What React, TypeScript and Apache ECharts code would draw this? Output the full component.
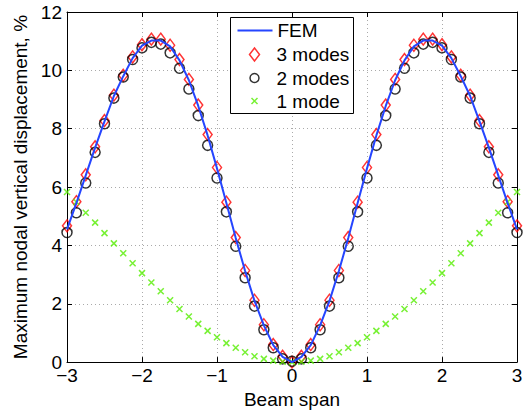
import React, { useEffect, useRef } from "react";
import * as echarts from "echarts";

const spans = [
  -3, -2.875, -2.75, -2.625, -2.5, -2.375, -2.25, -2.125, -2, -1.875, -1.75, -1.625, -1.5,
  -1.375, -1.25, -1.125, -1, -0.875, -0.75, -0.625, -0.5, -0.375, -0.25, -0.125, 0,
  0.125, 0.25, 0.375, 0.5, 0.625, 0.75, 0.875, 1, 1.125, 1.25, 1.375, 1.5, 1.625, 1.75,
  1.875, 2, 2.125, 2.25, 2.375, 2.5, 2.625, 2.75, 2.875, 3,
];

const femValues = [
  4.55, 5.45, 6.4, 7.35, 8.25, 9.12, 9.8, 10.42, 10.85, 11.02, 11.02, 10.82, 10.34,
  9.66, 8.78, 7.77, 6.64, 5.45, 4.25, 3.12, 2.1, 1.26, 0.58, 0.18, 0.0,
  0.18, 0.58, 1.26, 2.1, 3.12, 4.25, 5.45, 6.64, 7.77, 8.78, 9.66, 10.34, 10.82, 11.02,
  11.02, 10.85, 10.42, 9.8, 9.12, 8.25, 7.35, 6.4, 5.45, 4.55,
];

const threeModes = [
  4.67, 5.5, 6.42, 7.38, 8.28, 9.15, 9.83, 10.46, 10.88, 11.07, 11.07, 10.86, 10.37,
  9.69, 8.81, 7.8, 6.67, 5.48, 4.27, 3.14, 2.12, 1.28, 0.6, 0.2, 0.0,
  0.2, 0.6, 1.28, 2.12, 3.14, 4.27, 5.48, 6.67, 7.8, 8.81, 9.69, 10.37, 10.86, 11.07,
  11.07, 10.88, 10.46, 9.83, 9.15, 8.28, 7.38, 6.42, 5.5, 4.67,
];

const twoModes = [
  4.44, 5.12, 6.14, 7.19, 8.17, 9.05, 9.77, 10.37, 10.77, 10.96, 10.9, 10.6, 10.07,
  9.36, 8.45, 7.43, 6.31, 5.15, 3.97, 2.89, 1.92, 1.11, 0.49, 0.11, 0.03,
  0.11, 0.49, 1.11, 1.92, 2.89, 3.97, 5.15, 6.31, 7.43, 8.45, 9.36, 10.07, 10.6, 10.9,
  10.96, 10.77, 10.37, 9.77, 9.05, 8.17, 7.19, 6.14, 5.12, 4.44,
];

const oneMode = [
  5.83, 5.49, 5.12, 4.78, 4.42, 4.07, 3.73, 3.39, 3.05, 2.73, 2.43, 2.12, 1.82,
  1.56, 1.31, 1.07, 0.85, 0.65, 0.49, 0.34, 0.2, 0.11, 0.05, 0.01, 0.0,
  0.01, 0.05, 0.11, 0.2, 0.34, 0.49, 0.65, 0.85, 1.07, 1.31, 1.56, 1.82, 2.12, 2.43,
  2.73, 3.05, 3.39, 3.73, 4.07, 4.42, 4.78, 5.12, 5.49, 5.83,
];

const seriesNames = ["FEM", "3 modes", "2 modes", "1 mode"];
const xTicks = { min: -3, max: 3, interval: 1 };
const yTicks = { min: 0, max: 12, interval: 2 };

const FONT = "'Liberation Sans', Arial, Helvetica, sans-serif";
const FS = 19;
const DIAMOND = "path://M5,0L10,6.5L5,13L0,6.5Z";
const CROSS = "path://M0,0L10,10M10,0L0,10";

const pairs = (vals: number[]) => spans.map((x, i) => [x, vals[i]]);
const fmtMinus = (v: number) => String(v).replace("-", "\u2212");

export default function App() {
  const ref = useRef<HTMLDivElement>(null);
  useEffect(() => {
    if (!ref.current) return;
    const chart = echarts.init(ref.current, undefined, { renderer: "svg" });
    const textStyle = { fontSize: FS, color: "#000", fontFamily: FONT };
    const rows = [30.5, 54.5, 78, 101];
    const iconH = [13, 13, 9, 6];
    const iconW = [35, 10, 9, 6];
    const legends = seriesNames.map((n, i) => {
      const isLine = i === 0;
      return {
        data: [{ name: n }],
        selectedMode: false,
        orient: "vertical",
        left: isLine ? 236.5 : 254.5 - iconW[i] / 2 - 0.75,
        top: rows[i] - FS / 2,
        padding: 0,
        itemWidth: isLine ? 35 : 34,
        itemHeight: iconH[i],
        itemGap: 0,
        textStyle,
        itemStyle: isLine ? { opacity: 0, borderWidth: 0 } : { borderWidth: 1.5 },
        lineStyle: { width: 2 },
        z: 5,
      };
    });
    const axisCommon = {
      axisLine: { show: true, onZero: false, lineStyle: { color: "#000", width: 1 } },
      axisTick: { show: true, inside: true, length: 5, lineStyle: { color: "#000", width: 1 } },
    };
    chart.setOption({
      animation: false,
      backgroundColor: "#fff",
      textStyle: { fontFamily: FONT },
      grid: { left: 67, right: 9, top: 12, bottom: 48, containLabel: false },
      legend: legends,
      graphic: [
        {
          type: "rect",
          shape: { x: 230.5, y: 17.5, width: 123, height: 96 },
          style: { fill: "#fff", stroke: "#000", lineWidth: 1 },
          z: 3,
        },
      ],
      xAxis: [
        {
          type: "value",
          position: "bottom",
          ...xTicks,
          ...axisCommon,
          axisLabel: { ...textStyle, lineHeight: 15, margin: 6, formatter: fmtMinus },
          splitLine: { show: true, lineStyle: { color: "#aaaaaa", width: 1, type: [1, 3] } },
          name: "Beam span",
          nameLocation: "middle",
          nameGap: 27,
          nameTextStyle: textStyle,
        },
        {
          type: "value",
          position: "top",
          ...xTicks,
          ...axisCommon,
          axisLabel: { show: false },
          splitLine: { show: false },
        },
      ],
      yAxis: [
        {
          type: "value",
          position: "left",
          ...yTicks,
          ...axisCommon,
          axisLabel: { ...textStyle, lineHeight: 10, margin: 5 },
          splitLine: { show: true, lineStyle: { color: "#aaaaaa", width: 1, type: [1, 3] } },
          name: "Maximum nodal vertical displacement, %",
          nameLocation: "middle",
          nameGap: 31,
          nameTextStyle: textStyle,
        },
        {
          type: "value",
          position: "right",
          ...yTicks,
          ...axisCommon,
          axisLabel: { show: false },
          splitLine: { show: false },
        },
      ],
      series: [
        {
          name: seriesNames[0],
          type: "line",
          data: pairs(femValues),
          symbol: "none",
          lineStyle: { color: "#2545ff", width: 2 },
          itemStyle: { color: "#2545ff" },
        },
        {
          name: seriesNames[1],
          type: "scatter",
          data: pairs(threeModes),
          symbol: DIAMOND,
          symbolSize: [9, 12],
          itemStyle: { color: "transparent", borderColor: "#ff0000", borderWidth: 1.5 },
        },
        {
          name: seriesNames[2],
          type: "scatter",
          data: pairs(twoModes),
          symbol: "circle",
          symbolSize: 10,
          itemStyle: { color: "transparent", borderColor: "#000000", borderWidth: 1.5 },
        },
        {
          name: seriesNames[3],
          type: "scatter",
          data: pairs(oneMode),
          symbol: CROSS,
          symbolSize: 6,
          itemStyle: { color: "transparent", borderColor: "#55ee00", borderWidth: 1.5 },
        },
      ],
    });
    return () => chart.dispose();
  }, []);
  return (
    <div
      ref={ref}
      style={{ position: "absolute", left: 0, top: 0, width: 526, height: 414, background: "#fff" }}
    />
  );
}
